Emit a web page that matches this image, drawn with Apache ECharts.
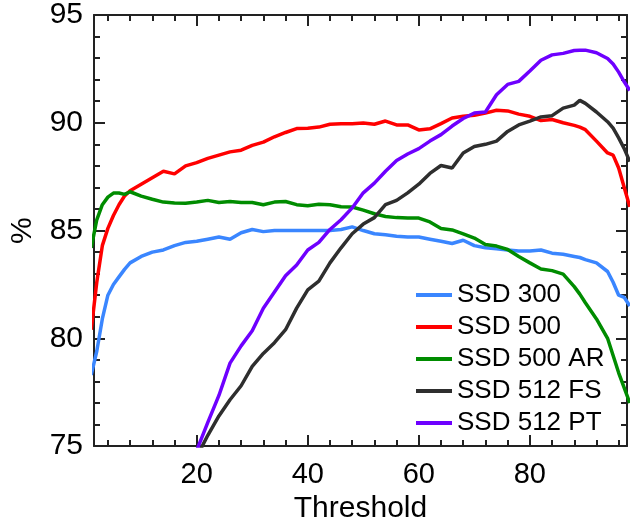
<!DOCTYPE html>
<html>
<head>
<meta charset="utf-8">
<script src="https://cdn.jsdelivr.net/npm/echarts@6/dist/echarts.min.js"></script>
<style>html,body{margin:0;padding:0;background:#fff}#c{width:631px;height:529px}</style>
</head>
<body>
<div id="c"></div>
<script>
const thresholds = [1,2,3,4,5,6,7,8,10,12,14,16,18,20,22,24,26,28,30,32,34,36,38,40,42,44,46,48,50,52,54,56,58,60,62,64,66,68,70,72,74,76,78,80,82,84,86,88,89,90,92,94,95,96,97,98];
const ssd300 = [78.3,79.4,80.9,82.0,82.5,82.85,83.2,83.5,83.8,84.0,84.1,84.3,84.45,84.5,84.6,84.7,84.6,84.9,85.05,84.95,85.0,85.0,85.0,85.0,85.0,85.0,85.05,85.17,85.0,84.85,84.8,84.74,84.7,84.7,84.6,84.5,84.4,84.55,84.3,84.2,84.15,84.1,84.05,84.05,84.1,83.95,83.9,83.8,83.75,83.65,83.5,83.1,82.6,82.0,81.9,81.5];
const ssd500 = [80.4,82.6,84.3,85.1,85.7,86.2,86.6,86.85,87.15,87.45,87.75,87.63,88.0,88.15,88.35,88.5,88.65,88.73,88.95,89.1,89.35,89.55,89.73,89.75,89.8,89.93,89.95,89.96,89.99,89.93,90.08,89.9,89.9,89.67,89.72,89.96,90.22,90.3,90.35,90.45,90.58,90.55,90.4,90.3,90.1,90.15,90.0,89.88,89.8,89.68,89.15,88.6,88.5,87.9,87.0,86.1];
const ssd500ar = [84.2,85.5,86.2,86.55,86.74,86.74,86.68,86.8,86.6,86.45,86.32,86.28,86.27,86.32,86.4,86.3,86.35,86.3,86.3,86.2,86.32,86.35,86.2,86.15,86.22,86.2,86.1,86.09,85.95,85.78,85.65,85.6,85.58,85.58,85.4,85.1,85.03,84.85,84.65,84.35,84.28,84.12,83.8,83.5,83.22,83.14,82.98,82.4,82.05,81.65,80.9,80.0,79.2,78.4,77.7,77.0];
const ssd512fs = [null,null,null,null,null,null,null,null,null,null,null,null,73.6,74.5,75.5,76.4,77.15,77.8,78.7,79.3,79.8,80.4,81.4,82.25,82.65,83.5,84.2,84.85,85.3,85.6,86.2,86.4,86.75,87.15,87.65,88.02,87.9,88.6,88.9,89.0,89.15,89.6,89.9,90.08,90.27,90.33,90.68,90.82,91.04,90.9,90.5,90.05,89.75,89.3,88.8,88.2];
const ssd512pt = [null,null,null,null,null,null,null,null,null,null,null,null,73.3,74.8,76.1,77.35,78.85,79.65,80.35,81.4,82.15,82.9,83.4,84.1,84.45,85.05,85.5,86.05,86.75,87.2,87.75,88.25,88.55,88.8,89.15,89.45,89.85,90.2,90.45,90.5,91.3,91.78,91.92,92.4,92.9,93.15,93.22,93.35,93.37,93.37,93.25,92.98,92.73,92.35,91.9,91.5];
const seriesNames = ['SSD 300','SSD 500','SSD 500 AR','SSD 512 FS','SSD 512 PT'];
const seriesValues = [ssd300, ssd500, ssd500ar, ssd512fs, ssd512pt];
const colors = ['#3a86ff','#ff0000','#008c00','#2e2e2e','#6e00ff'];
const xMajor = [20,40,60,80];
const xMinor = [4,8,12,16,24,28,32,36,44,48,52,56,64,68,72,76,84,88,92,96];

const X_MIN = 1.5, X_MAX = 97.5;
const font = 'Liberation Sans, Arial, sans-serif';
const axColor = '#222';

function xAx(pos, major, showLabel) {
  const vals = major ? xMajor : xMinor;
  const o = {
    type: 'value', position: pos, min: X_MIN, max: X_MAX,
    axisLine: {show: major, onZero: false, lineStyle: {color: axColor, width: 2}},
    axisTick: {show: true, inside: true, length: major ? 11 : 6, customValues: vals, lineStyle: {color: axColor, width: 2}},
    axisLabel: {show: showLabel, customValues: vals, fontSize: 29, color: '#000', margin: 14, fontFamily: font},
    splitLine: {show: false}
  };
  if (showLabel) {
    o.name = 'Threshold';
    o.nameLocation = 'middle';
    o.nameGap = 47;
    o.nameTextStyle = {fontSize: 30, color: '#000', fontFamily: font};
  }
  return o;
}
function yAx(pos, showLabel) {
  const o = {
    type: 'value', position: pos, min: 75, max: 95, interval: 5,
    axisLine: {show: true, onZero: false, lineStyle: {color: axColor, width: 2}},
    axisTick: {show: true, inside: true, length: 11, lineStyle: {color: axColor, width: 2}},
    minorTick: {show: true, splitNumber: 5, length: 6, lineStyle: {color: axColor, width: 2}},
    axisLabel: {show: showLabel, fontSize: 30, color: '#000', margin: 11, fontFamily: font},
    splitLine: {show: false}
  };
  if (showLabel) {
    o.name = '%';
    o.nameLocation = 'middle';
    o.nameGap = 56;
    o.nameTextStyle = {fontSize: 30, color: '#000', fontFamily: font};
  }
  return o;
}

const chart = echarts.init(document.getElementById('c'), null, {renderer: 'canvas'});
chart.setOption({
  animation: false,
  backgroundColor: '#fff',
  textStyle: {fontFamily: font},
  grid: {left: 88, right: 4, top: 14, bottom: 81, containLabel: false},
  xAxis: [xAx('bottom', true, true), xAx('bottom', false, false), xAx('top', true, false), xAx('top', false, false)],
  yAxis: [yAx('left', true), yAx('right', false)],
  legend: {
    orient: 'vertical', left: 411, top: 277, itemWidth: 36, itemHeight: 4, itemGap: 6,
    icon: 'rect', textStyle: {fontSize: 26, color: '#000', fontFamily: font},
    data: seriesNames
  },
  series: seriesNames.map((n, k) => ({
    name: n, type: 'line', xAxisIndex: 0, yAxisIndex: 0,
    showSymbol: false, symbol: 'none', color: colors[k],
    lineStyle: {width: 3.5, color: colors[k]},
    clip: true,
    data: thresholds.map((t, i) => [t, seriesValues[k][i]]).filter(p => p[1] !== null)
  }))
});
</script>
</body>
</html>
